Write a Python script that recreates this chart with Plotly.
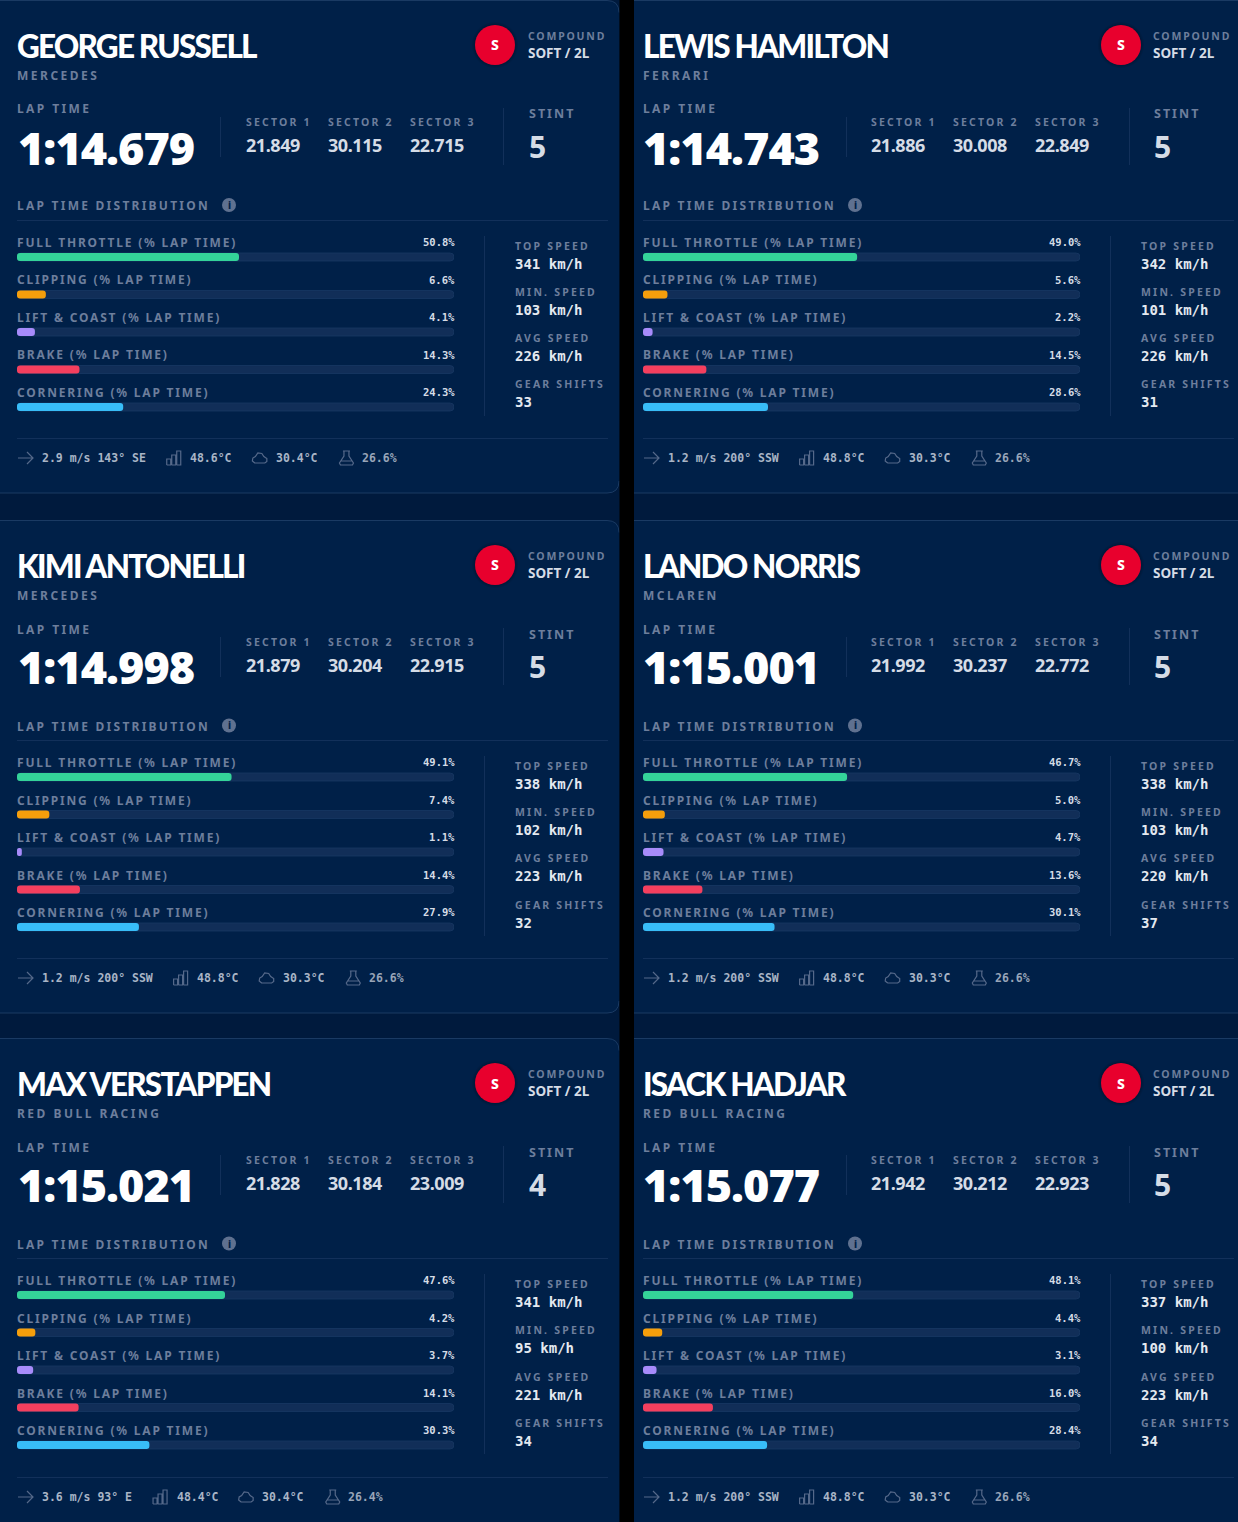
import plotly.graph_objects as go

W, H = 1238, 1522

drivers = ["GEORGE RUSSELL", "LEWIS HAMILTON", "KIMI ANTONELLI", "LANDO NORRIS", "MAX VERSTAPPEN", "ISACK HADJAR"]
teams = ["MERCEDES", "FERRARI", "MERCEDES", "MCLAREN", "RED BULL RACING", "RED BULL RACING"]
lap_times = ["1:14.679", "1:14.743", "1:14.998", "1:15.001", "1:15.021", "1:15.077"]
sector1 = ["21.849", "21.886", "21.879", "21.992", "21.828", "21.942"]
sector2 = ["30.115", "30.008", "30.204", "30.237", "30.184", "30.212"]
sector3 = ["22.715", "22.849", "22.915", "22.772", "23.009", "22.923"]
stints = ["5", "5", "5", "5", "4", "5"]
compound = "SOFT / 2L"

metrics = ["FULL THROTTLE (% LAP TIME)", "CLIPPING (% LAP TIME)", "LIFT & COAST (% LAP TIME)",
           "BRAKE (% LAP TIME)", "CORNERING (% LAP TIME)"]
metric_colors = ["#34d399", "#f59e0b", "#a78bfa", "#f43f5e", "#38bdf8"]
full_throttle = [50.8, 49.0, 49.1, 46.7, 47.6, 48.1]
clipping = [6.6, 5.6, 7.4, 5.0, 4.2, 4.4]
lift_coast = [4.1, 2.2, 1.1, 4.7, 3.7, 3.1]
brake = [14.3, 14.5, 14.4, 13.6, 14.1, 16.0]
cornering = [24.3, 28.6, 27.9, 30.1, 30.3, 28.4]

top_speed = [341, 342, 338, 338, 341, 337]
min_speed = [103, 101, 102, 103, 95, 100]
avg_speed = [226, 226, 223, 220, 221, 223]
gear_shifts = [33, 31, 32, 37, 34, 34]

wind = ["2.9 m/s 143° SE", "1.2 m/s 200° SSW", "1.2 m/s 200° SSW", "1.2 m/s 200° SSW", "3.6 m/s 93° E", "1.2 m/s 200° SSW"]
track_temp = ["48.6°C", "48.8°C", "48.8°C", "48.8°C", "48.4°C", "48.8°C"]
air_temp = ["30.4°C", "30.3°C", "30.3°C", "30.3°C", "30.4°C", "30.3°C"]
humidity = ["26.6%", "26.6%", "26.6%", "26.6%", "26.4%", "26.6%"]

SANS = "Noto Sans"
HEAD = "Lato"
MONO = "DejaVu Sans Mono"
LABEL = "#6d7e9c"
VALUE = "#d5dce6"
CARD = "#002048"
GAP = "#001a3d"
EDGE = "#1a3a63"
RULE = "#12305a"
ICON = "#55698a"

fig = go.Figure()
shapes, notes, axes = [], [], {}


def fx(x):
    return x / W


def fy(y):
    return 1 - y / H


def txt(x, y, s, size, color, weight=700, family=SANS, anchor="left", spacing=0):
    notes.append(dict(
        x=fx(x), y=fy(y), xref="paper", yref="paper", xanchor=anchor, yanchor="middle",
        text=f'<span style="letter-spacing:{spacing}px">{s}</span>', showarrow=False, borderpad=0,
        font=dict(family=family, size=size, color=color, weight=weight),
    ))


def line(x0, y0, x1, y1, color=RULE, width=1):
    shapes.append(dict(type="line", xref="paper", yref="paper", x0=fx(x0), y0=fy(y0), x1=fx(x1), y1=fy(y1),
                       line=dict(color=color, width=width), layer="below"))


def circle(cx, cy, r, color):
    shapes.append(dict(type="circle", xref="paper", yref="paper", x0=fx(cx - r), x1=fx(cx + r), y0=fy(cy - r), y1=fy(cy + r),
                       fillcolor=color, line_width=0, layer="below"))


def icon(points, x, y):
    # points are in px relative to the icon's top left corner, None starts a new sub path
    d, start = "", True
    for p in points:
        if p is None:
            start = True
            continue
        d += f"{'M' if start else 'L'}{fx(x + p[0]):.5f},{fy(y + p[1]):.5f} "
        start = False
    shapes.append(dict(type="path", path=d, xref="paper", yref="paper",
                       line=dict(color=ICON, width=1.2), layer="below"))


arrow_icon = [(0, 7), (15, 7), None, (9, 1), (15, 7), (9, 13)]
bars_icon = [(0, 14), (0, 8), (4, 8), (4, 14), (0, 14), None, (5, 14), (5, 4), (9, 4), (9, 14), (5, 14), None,
             (10, 14), (10, 0), (14, 0), (14, 14), (10, 14)]
cloud_icon = [(3, 13), (0.5, 11), (1, 8), (3.5, 6.5), (6, 3), (10, 3.5), (12, 6.5), (15, 8.5), (15, 11.5), (13, 13), (3, 13)]
flask_icon = [(4, 0), (11, 0), None, (5, 0), (5, 5), (0.5, 12), (1.5, 14), (13.5, 14), (14.5, 12), (10, 5), (10, 0), None, (2, 10), (13, 10)]

# page, then the six cards
col_x = [0, 626]
row_y = [0, 520, 1038]
card_h = 493
for i in range(6):
    ox, oy = col_x[i % 2], row_y[i // 2]
    # text sits a touch left of the bars in the right hand column
    tx = ox - (1 if i % 2 == 0 else 1.5)
    sec_x = ox - (1 if i % 2 == 0 else 2)
    x0, x1 = (-20, 619) if i % 2 == 0 else (620, W + 20)
    y0, y1 = oy + 0.5, oy + card_h + (0 if i < 4 else 40)
    r = 12
    fill = (f"M{fx(x0)},{fy(y0)} L{fx(x1 - r)},{fy(y0)} Q{fx(x1)},{fy(y0)} {fx(x1)},{fy(y0 + r)} "
            f"L{fx(x1)},{fy(y1 - r)} Q{fx(x1)},{fy(y1)} {fx(x1 - r)},{fy(y1)} L{fx(x0)},{fy(y1)} Z")
    shapes.append(dict(type="path", path=fill, xref="paper", yref="paper", fillcolor=CARD, line_width=0, layer="below"))
    top_edge = f"M{fx(x0)},{fy(y0)} L{fx(x1 - r)},{fy(y0)} Q{fx(x1)},{fy(y0)} {fx(x1)},{fy(y0 + r)}"
    bot_edge = f"M{fx(x0)},{fy(y1)} L{fx(x1 - r)},{fy(y1)} Q{fx(x1)},{fy(y1)} {fx(x1)},{fy(y1 - r)}"
    for edge in (top_edge, bot_edge):
        shapes.append(dict(type="path", path=edge, xref="paper", yref="paper", line=dict(color=EDGE, width=1), layer="below"))

    # header
    txt(tx + 17, oy + 46, drivers[i], 31.5, "#ffffff", 900, HEAD, spacing=-1.8)
    txt(tx + 17, oy + 75.5, teams[i], 12, LABEL, 700, spacing=2.5)
    for r_, a in ((23, "rgba(0,0,0,0.07)"), (21.5, "rgba(0,0,0,0.10)"), (20, "#e8002d")):
        circle(ox + 495, oy + 45, r_, a)
    txt(ox + 495, oy + 45, "S", 14, "#ffffff", 800, anchor="center")
    txt(sec_x + 528, oy + 36, "COMPOUND", 10.5, LABEL, 700, spacing=1.8)
    txt(sec_x + 528, oy + 53, compound, 13.5, VALUE, 700, spacing=0)

    # lap time and sectors
    d1 = 1 if oy else 0
    txt(tx + 17, oy + 108 + d1, "LAP TIME", 12, LABEL, 700, spacing=2.4)
    txt(tx + 17.5, oy + 147.5 - d1, lap_times[i], 45, "#ffffff", 900, spacing=-1)
    line(ox + 220.5, oy + 117, ox + 220.5, oy + 157)
    for sx, name, val in ((246, "SECTOR 1", sector1[i]), (328, "SECTOR 2", sector2[i]), (410, "SECTOR 3", sector3[i])):
        txt(sec_x + sx, oy + 122, name, 10.5, LABEL, 700, spacing=2.2)
        txt(sec_x + sx, oy + 145, val, 18, VALUE, 700, spacing=-0.45)
    line(ox + 503.5, oy + 108, ox + 503.5, oy + 165)
    txt(sec_x + 529, oy + 113.5 + d1, "STINT", 12.5, LABEL, 700, spacing=2)
    txt(sec_x + 529, oy + 147 - d1, stints[i], 30, VALUE, 700)

    # distribution heading
    d2 = 0.5 if oy else 0
    txt(tx + 17, oy + 205.5 + d2, "LAP TIME DISTRIBUTION", 12, LABEL, 700, spacing=2.25)
    circle(ox + 229, oy + 205 + d2, 7, "#5f7190")
    txt(ox + 229, oy + 205 + d2, "i", 10, CARD, 800, anchor="center")
    line(ox + 17, oy + 220.5, ox + 608, oy + 220.5)

    # bars
    vals = [full_throttle[i], clipping[i], lift_coast[i], brake[i], cornering[i]]
    xa, ya = f"xaxis{i + 1}", f"yaxis{i + 1}"
    xr, yr = f"x{i + 1}", f"y{i + 1}"
    top = oy + 257 - 18.75
    bot = oy + 407 + 18.75
    axes[xa] = dict(domain=[fx(ox + 17), fx(ox + 454)], range=[0, 100], visible=False, anchor=yr, fixedrange=True)
    axes[ya] = dict(domain=[fy(bot), fy(top)], range=[4.5, -0.5], visible=False, anchor=xr, type="category",
                    categoryorder="array", categoryarray=metrics, fixedrange=True)
    # base=0 makes plotly round both ends of the bar, not only the far one
    fig.add_trace(go.Bar(x=[100] * 5, y=metrics, base=0, orientation="h", xaxis=xr, yaxis=yr, width=0.21,
                         marker=dict(color="#112e58", cornerradius="50%", line=dict(color="#163660", width=1)),
                         hoverinfo="skip", showlegend=False))
    fig.add_trace(go.Bar(x=vals, y=metrics, base=0, orientation="h", xaxis=xr, yaxis=yr, width=0.21,
                         marker=dict(color=metric_colors, cornerradius="50%", line_width=0), showlegend=False))
    for k, (m, v) in enumerate(zip(metrics, vals)):
        ty = oy + 242.5 + 37.5 * k
        txt(tx + 17, ty, m.replace("&", "&amp;"), 12, LABEL, 700, spacing=1.8)
        txt(ox + 456, ty - 0.5, f"{v:.1f}%", 10.5, VALUE, 700, MONO, anchor="right")

    # speed column
    line(ox + 484.5, oy + 236, ox + 484.5, oy + 416)
    stats = (("TOP SPEED", f"{top_speed[i]} km/h"), ("MIN. SPEED", f"{min_speed[i]} km/h"),
             ("AVG SPEED", f"{avg_speed[i]} km/h"), ("GEAR SHIFTS", str(gear_shifts[i])))
    for k, (name, val) in enumerate(stats):
        sy = oy + 246 + 46 * k + (1 if (i > 3 and k > 1) or (oy and k == 3) else 0)
        txt(ox + 514, sy, name, 10.5, LABEL, 700, spacing=2.2)
        txt(ox + 514, sy + 18, val, 14, "#e4e9f0", 700, MONO)

    # weather strip
    line(ox + 17, oy + 438.5 + (0 if i < 4 else 1), ox + 608, oy + 438.5 + (0 if i < 4 else 1))
    wy = oy + 458 + (0 if i < 4 else 1)
    char_w = 6.85
    wx = ox + 41
    icon(arrow_icon, ox + 18, wy - 7)
    txt(wx, wy, wind[i], 11.5, "#a9b5c6", 700, MONO)
    bx = wx + len(wind[i]) * char_w + 21
    icon(bars_icon, bx + 2, wy - 7)
    txt(bx + 24.5, wy, track_temp[i], 11.5, "#a9b5c6", 700, MONO)
    cx = bx + 24 + 6 * char_w + 20
    icon(cloud_icon, cx + 2, wy - 8)
    txt(cx + 25, wy, air_temp[i], 11.5, "#a9b5c6", 700, MONO)
    fl = cx + 24 + 6 * char_w + 22
    icon(flask_icon, fl + 2, wy - 7)
    txt(fl + 24, wy, humidity[i], 11.5, "#98a5b8", 700, MONO)

# black gutter between the columns
shapes.append(dict(type="rect", xref="paper", yref="paper", x0=fx(619.5), x1=fx(634), y0=0, y1=1,
                   fillcolor="#000000", line_width=0, layer="below"))

fig.update_layout(
    width=W, height=H, autosize=False,
    margin=dict(l=0, r=0, t=0, b=0, pad=0),
    paper_bgcolor=GAP, plot_bgcolor="rgba(0,0,0,0)",
    barmode="overlay", showlegend=False,
    shapes=shapes, annotations=notes, **axes,
)

# the page's default body margin would push the chart off the 1238 px window
fig.write_html("out.html", config={"displayModeBar": False}, post_script="document.body.style.margin='0';")
